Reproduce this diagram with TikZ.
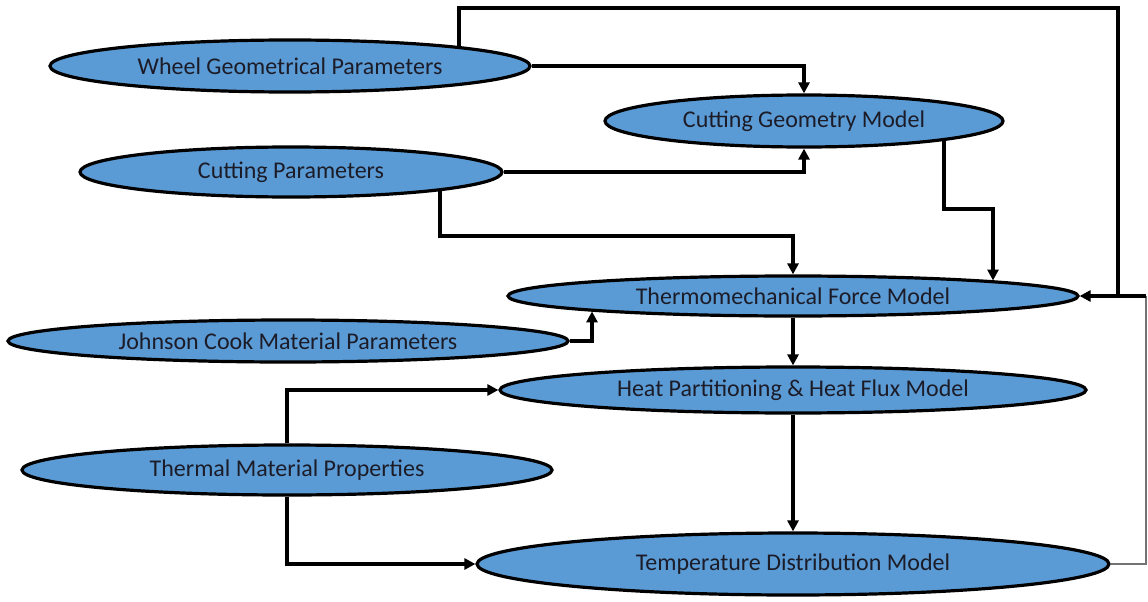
\documentclass[tikz,border=0pt]{standalone}
\usepackage{fontspec}
\setmainfont{Carlito}
\usetikzlibrary{shapes.geometric,arrows.meta}
\definecolor{procblue}{RGB}{91,155,213}
\definecolor{labelink}{RGB}{28,28,40}
\tikzset{
  proc/.style={ellipse, draw=black, line width=3.2pt, fill=procblue,
    inner sep=0pt, text=labelink, font=\fontsize{24}{28}\selectfont},
  link/.style={line width=3.2pt},
  flow/.style={link, -{Triangle[length=11pt,width=11pt]}},
  feedback/.style={line width=1.5pt, black!55},
}
\begin{document}
\begin{tikzpicture}[x=1pt,y=-1pt]
  \useasboundingbox (0,0) rectangle (1148,602);
  % left column: inputs
  \node[proc, minimum width=480pt, minimum height=52pt] (wheel) at (290,66) {Wheel Geometrical Parameters};
  \node[proc, minimum width=422pt, minimum height=50pt] (cutpar) at (291,172) {Cutting Parameters};
  \node[proc, minimum width=560pt, minimum height=42pt] (jc) at (288,341) {Johnson Cook Material Parameters};
  \node[proc, minimum width=530pt, minimum height=50pt] (thermal) at (287,470) {Thermal Material Properties};
  % right column: models
  \node[proc, minimum width=398pt, minimum height=52pt] (cgm) at (804,121) {Cutting Geometry Model};
  \node[proc, minimum width=570pt, minimum height=40pt] (thermo) at (793,296) {Thermomechanical Force Model};
  \node[proc, minimum width=586pt, minimum height=46pt] (heat) at (793,390) {Heat Partitioning \& Heat Flux Model};
  \node[proc, minimum width=632pt, minimum height=62pt] (tdm) at (793,564) {Temperature Distribution Model};
  % taps and bends (the shorten values reach the ellipse rim off-centre)
  \coordinate (wtap) at (459,0);
  \coordinate (cptap) at (440,0);
  \coordinate (cgtap) at (944,0);
  \coordinate (jctap) at (592,0);
  \coordinate (cpbend) at (793,236);
  \coordinate (cgbend) at (993,209);
  \coordinate (loopT) at (1118,8);
  \coordinate (loopR) at (1146,296);

  \draw[flow] (wheel.east) -| (cgm.north);
  \draw[flow] (cutpar.east) -| (cgm.south);
  \draw[flow, shorten <=-7.6pt] (cutpar.south -| cptap) |- (cpbend) -- (thermo.north);
  \draw[flow, shorten <=-7.8pt, shorten >=-6.1pt] (cgm.south -| cgtap) |- (cgbend) -- (thermo.north -| cgbend);
  \draw[flow, shorten >=-6.2pt] (jc.east) -| (thermo.south -| jctap);
  \draw[flow] (thermo.south) -- (heat.north);
  \draw[flow] (thermal.north) |- (heat.west);
  \draw[flow] (thermal.south) |- (tdm.west);
  \draw[flow] (heat.south) -- (tdm.north);
  % feedback loops on the right
  \draw[link, shorten <=-7.9pt] (wheel.north -| wtap) |- (loopT) -- (loopT |- loopR);
  \draw[feedback] (tdm.east) -| (loopR);
  \draw[flow] (loopR) -- (thermo.east);
\end{tikzpicture}
\end{document}
